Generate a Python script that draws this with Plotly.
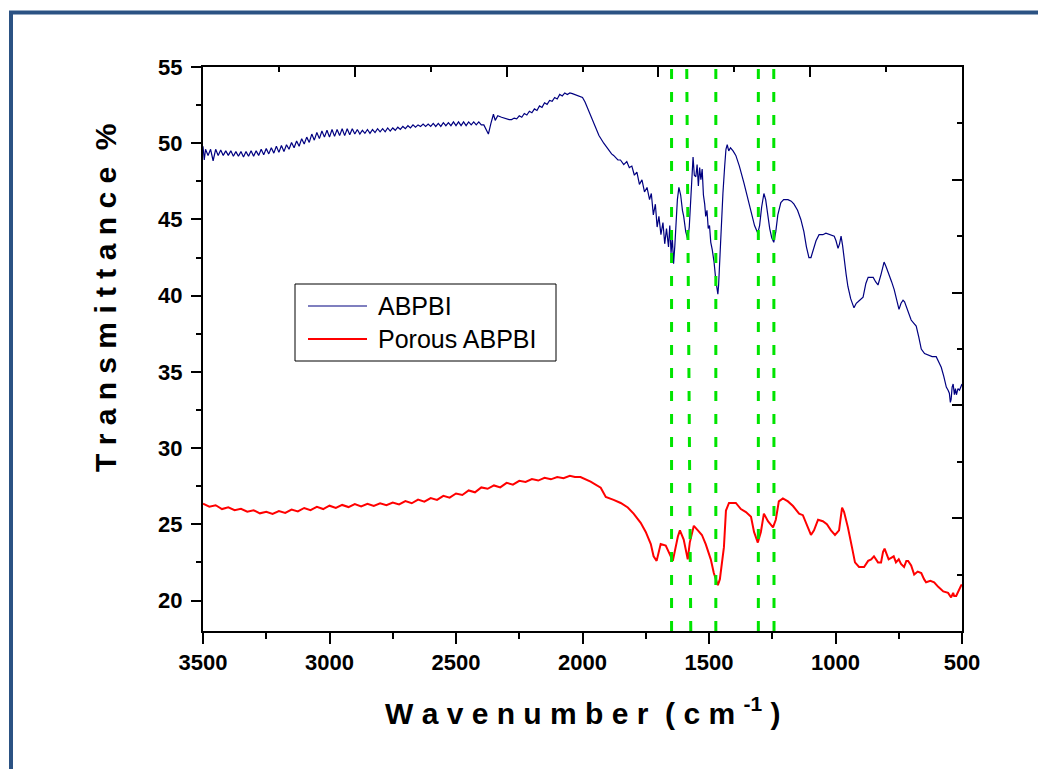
import plotly.graph_objects as go

# ---------------- data ----------------
abpbi_wn = [3500, 3495, 3490, 3480, 3470, 3460, 3450, 3440, 3430, 3420, 3410, 3400, 3390, 3380, 3370, 3360,
            3350, 3340, 3330, 3320, 3310, 3300, 3290, 3280, 3270, 3260, 3250, 3240, 3230, 3220, 3210, 3200,
            3190, 3180, 3170, 3160, 3150, 3140, 3130, 3120, 3110, 3100, 3090, 3080, 3070, 3060, 3050, 3040,
            3030, 3020, 3010, 3000, 2990, 2980, 2970, 2960, 2950, 2940, 2930, 2920, 2910, 2900, 2890, 2880,
            2870, 2860, 2850, 2840, 2830, 2820, 2810, 2800, 2790, 2780, 2770, 2760, 2750, 2740, 2730, 2720,
            2710, 2700, 2690, 2680, 2670, 2660, 2650, 2640, 2630, 2620, 2610, 2600, 2590, 2580, 2570, 2560,
            2550, 2540, 2530, 2520, 2510, 2500, 2490, 2480, 2470, 2460, 2450, 2440, 2430, 2420, 2410, 2400,
            2390, 2380, 2372, 2362, 2352, 2345, 2335, 2320, 2305, 2290, 2280, 2270, 2260, 2250, 2240, 2230,
            2220, 2210, 2200, 2190, 2180, 2170, 2160, 2150, 2140, 2130, 2120, 2110, 2100, 2090, 2080, 2070,
            2060, 2050, 2040, 2030, 2020, 2010, 2000, 1990, 1980, 1968, 1950, 1935, 1916, 1900, 1885, 1877,
            1860, 1850, 1837, 1825, 1815, 1805, 1795, 1785, 1775, 1765, 1755, 1745, 1735, 1728, 1720, 1712,
            1705, 1698, 1690, 1682, 1675, 1668, 1660, 1655, 1650, 1645, 1640, 1635, 1631, 1625, 1619, 1612,
            1605, 1600, 1592, 1584, 1578, 1572, 1566, 1563, 1558, 1552, 1547, 1542, 1537, 1532, 1527, 1522,
            1517, 1513, 1508, 1503, 1498, 1493, 1487, 1480, 1473, 1468, 1465, 1462, 1456, 1450, 1445, 1438,
            1433, 1428, 1422, 1415, 1405, 1394, 1380, 1362, 1348, 1335, 1320, 1307, 1300, 1292, 1283, 1276,
            1268, 1260, 1252, 1244, 1236, 1228, 1216, 1205, 1188, 1175, 1164, 1150, 1137, 1125, 1115, 1105,
            1097, 1087, 1077, 1065, 1050, 1038, 1018, 1005, 998, 990, 984, 978, 972, 966, 958, 951,
            940, 927, 918, 911, 900, 891, 880, 871, 860, 851, 841, 832, 820, 808, 800, 788,
            778, 768, 758, 749, 741, 733, 727, 721, 711, 701, 691, 681, 671, 661, 648, 634,
            618, 602, 592, 582, 572, 562, 555, 550, 546, 543, 539, 535, 530, 526, 522, 516,
            510, 505, 500]
abpbi_t = [49.8, 48.9, 49.6, 49.2, 49.6, 48.85, 49.6, 49.2, 49.55, 49.2, 49.5, 49.2, 49.5, 49.15, 49.45, 49.15,
           49.45, 49.1, 49.45, 49.15, 49.5, 49.15, 49.5, 49.2, 49.6, 49.25, 49.65, 49.3, 49.7, 49.35, 49.8, 49.4,
           49.85, 49.45, 49.9, 49.6, 50.05, 49.7, 50.15, 49.8, 50.3, 49.95, 50.4, 50.05, 50.6, 50.2, 50.7, 50.3,
           50.8, 50.4, 50.85, 50.4, 50.9, 50.45, 50.9, 50.5, 50.95, 50.5, 50.95, 50.55, 50.95, 50.6, 50.9, 50.6,
           50.85, 50.65, 50.9, 50.65, 50.9, 50.7, 50.95, 50.75, 50.95, 50.75, 51.0, 50.8, 51.0, 50.85, 51.05, 50.9,
           51.1, 50.95, 51.15, 51.0, 51.2, 51.05, 51.2, 51.1, 51.25, 51.1, 51.25, 51.1, 51.3, 51.1, 51.3, 51.1,
           51.35, 51.15, 51.35, 51.15, 51.4, 51.15, 51.4, 51.15, 51.4, 51.15, 51.4, 51.2, 51.4, 51.2, 51.4, 51.2,
           51.2, 50.9, 50.6, 51.3, 51.9, 51.5, 51.8, 51.7, 51.6, 51.55, 51.55, 51.65, 51.6, 51.8, 51.7, 51.95,
           51.85, 52.1, 52.0, 52.25, 52.15, 52.45, 52.35, 52.65, 52.55, 52.8, 52.75, 53.0, 52.9, 53.2, 53.1, 53.3,
           53.2, 53.3, 53.25, 53.2, 53.1, 53.1, 53.0, 52.7, 52.3, 51.7, 51.0, 50.5, 50.0, 49.6, 49.3, 49.2,
           48.9, 48.9, 48.6, 48.8, 48.4, 48.5, 47.9, 48.1, 47.3, 47.6, 46.8, 47.1, 46.3, 46.7, 45.3, 46.0,
           44.5, 45.2, 44.0, 44.8, 43.4, 44.4, 43.2, 44.6, 42.8, 43.8, 42.1, 43.3, 44.5, 46.3, 47.1, 46.6,
           45.6, 45.2, 44.2, 43.7, 44.5, 46.7, 48.3, 49.1, 47.9, 47.8, 48.6, 47.2, 48.4, 47.6, 48.3, 46.6,
           46.0, 45.2, 45.6, 44.4, 44.6, 43.5, 43.0, 42.2, 41.0, 40.4, 40.1, 40.7, 43.0, 45.3, 46.7, 48.5,
           49.6, 49.9, 49.5, 49.7, 49.5, 49.2, 48.5, 47.4, 46.5, 45.6, 44.6, 44.1, 44.6, 45.8, 46.7, 46.3,
           45.3, 44.4, 43.8, 43.5, 44.2, 45.3, 46.1, 46.3, 46.3, 46.2, 46.0, 45.6, 45.0, 44.2, 43.2, 42.5,
           42.5, 43.0, 43.6, 44.0, 44.0, 44.1, 44.0, 43.9, 43.6, 43.1, 43.4, 43.9, 43.3, 42.4, 41.4, 40.6,
           39.8, 39.2, 39.5, 39.6, 39.8, 39.9, 40.8, 41.2, 41.2, 41.2, 40.9, 40.7, 41.4, 42.2, 41.9, 41.4,
           40.9, 40.4, 39.8, 39.1, 39.5, 39.7, 39.6, 39.3, 38.8, 38.4, 38.2, 38.0, 37.3, 36.5, 36.2, 36.1,
           36.0, 36.0, 35.7, 35.3, 34.7, 34.0, 33.8, 33.6, 33.0, 33.2, 34.0, 34.2, 33.5, 33.9, 33.5, 33.9,
           33.8, 34.0, 34.2]

porous_wn = [3500, 3475, 3450, 3425, 3400, 3375, 3350, 3325, 3300, 3275, 3250, 3225, 3200, 3175, 3150, 3125,
             3100, 3075, 3050, 3025, 3000, 2975, 2950, 2925, 2900, 2875, 2850, 2825, 2800, 2775, 2750, 2725,
             2700, 2675, 2650, 2625, 2600, 2575, 2550, 2525, 2500, 2475, 2450, 2425, 2400, 2375, 2350, 2325,
             2300, 2275, 2250, 2225, 2200, 2175, 2150, 2125, 2100, 2075, 2050, 2030, 2008, 1968, 1928, 1908,
             1877, 1849, 1821, 1798, 1770, 1750, 1730, 1719, 1707, 1691, 1671, 1655, 1643, 1623, 1615, 1600,
             1588, 1584, 1576, 1560, 1544, 1528, 1513, 1493, 1481, 1465, 1457, 1441, 1433, 1421, 1394, 1374,
             1354, 1334, 1322, 1307, 1295, 1283, 1267, 1247, 1236, 1224, 1208, 1188, 1168, 1144, 1129, 1113,
             1097, 1085, 1069, 1050, 1034, 1018, 1002, 986, 974, 966, 951, 935, 923, 907, 887, 871,
             859, 848, 832, 820, 812, 806, 798, 790, 780, 770, 761, 750, 741, 729, 720, 713,
             701, 689, 675, 661, 650, 642, 625, 610, 594, 574, 555, 543, 535, 531, 523, 515,
             508, 503, 500]
porous_t = [26.35, 26.15, 26.25, 26.0, 26.12, 25.93, 26.02, 25.83, 25.92, 25.72, 25.82, 25.68, 25.87, 25.75, 25.97, 25.85,
            26.07, 25.93, 26.15, 26.0, 26.22, 26.07, 26.27, 26.13, 26.32, 26.17, 26.35, 26.2, 26.37, 26.25, 26.43, 26.3,
            26.52, 26.38, 26.62, 26.48, 26.72, 26.6, 26.87, 26.75, 27.02, 26.92, 27.22, 27.1, 27.42, 27.33, 27.55, 27.42,
            27.72, 27.6, 27.85, 27.78, 27.97, 27.87, 28.05, 27.95, 28.1, 28.02, 28.18, 28.1, 28.1, 27.8, 27.4, 26.8,
            26.6, 26.4, 26.1, 25.7, 25.1, 24.5, 23.7, 22.9, 22.6, 23.7, 23.6, 23.0, 22.6, 24.2, 24.6, 24.0,
            22.9, 22.7, 23.8, 24.9, 24.6, 24.3, 23.7, 22.7, 21.8, 21.0, 21.4, 23.5, 25.9, 26.4, 26.4, 26.0,
            25.8, 25.5, 24.5, 23.8, 24.5, 25.7, 25.2, 24.8, 25.3, 26.5, 26.7, 26.5, 26.2, 25.7, 25.6, 25.0,
            24.3, 24.6, 25.3, 25.2, 25.0, 24.6, 24.3, 24.6, 26.1, 25.8, 24.8, 23.5, 22.5, 22.2, 22.2, 22.6,
            22.7, 22.9, 22.5, 22.5, 23.2, 23.4, 23.0, 22.7, 22.8, 22.9, 22.5, 22.7, 22.4, 22.2, 22.6, 22.6,
            22.3, 21.7, 21.9, 21.8, 21.4, 21.2, 21.3, 21.2, 20.9, 20.6, 20.5, 20.2, 20.5, 20.3, 20.3, 20.6,
            20.8, 21.0, 21.0]

series_names = ["ABPBI", "Porous ABPBI"]
series_colors = ["#000080", "#ff0000"]

# reference lines (wavenumber at bottom / top of the plot)
marker_wn_bottom = [1648, 1572, 1473, 1305, 1243]
marker_wn_top = [1648, 1588, 1473, 1305, 1244]

x_ticks = [3500, 3000, 2500, 2000, 1500, 1000, 500]
y_ticks = [20, 25, 30, 35, 40, 45, 50, 55]

# ---------------- layout geometry (page pixels; the page body adds an 8px offset) ----------------
OFF = 8
W, H = 1046, 769
L, R, T, B = 203, 962, 67, 631   # plot area in page pixels


def px_x(p):
    return (p - L) / (R - L)


def px_y(p):
    return (B - p) / (B - T)


FONT = "Arial, Liberation Sans, sans-serif"

fig = go.Figure()
fig.add_trace(go.Scatter(x=abpbi_wn, y=abpbi_t, mode="lines", name=series_names[0],
                         line=dict(color=series_colors[0], width=1.2), showlegend=False))
fig.add_trace(go.Scatter(x=porous_wn, y=porous_t, mode="lines", name=series_names[1],
                         line=dict(color=series_colors[1], width=2), showlegend=False))
# invisible trace to activate mirror axes (top / right)
fig.add_trace(go.Scatter(x=abpbi_wn, y=abpbi_t, xaxis="x2", yaxis="y2", mode="lines",
                         line=dict(width=0), hoverinfo="skip", showlegend=False))

axis_common = dict(showgrid=False, zeroline=False, showline=True, linecolor="black", linewidth=2,
                   tickcolor="black", tickwidth=2)

fig.update_layout(
    width=W, height=H,
    margin=dict(l=L - OFF, r=W + OFF - R, t=T - OFF, b=H + OFF - B),
    paper_bgcolor="white", plot_bgcolor="white",
    font=dict(family=FONT, color="black"),
    showlegend=False,
    xaxis=dict(range=[3500, 500], tickvals=x_ticks, ticks="outside", ticklen=11,
               tickfont=dict(family=FONT, size=22, weight="bold", color="black"),
               minor=dict(dtick=250, tick0=500, ticks="outside", ticklen=6, tickwidth=2, tickcolor="black"),
               **axis_common),
    yaxis=dict(range=[18, 55], tickvals=y_ticks, ticks="outside", ticklen=10, ticklabelstandoff=4,
               tickfont=dict(family=FONT, size=22, weight="bold", color="black"),
               minor=dict(dtick=2.5, tick0=0, ticks="outside", ticklen=5, tickwidth=2, tickcolor="black"),
               **axis_common),
    xaxis2=dict(range=[3500, 500], overlaying="x", side="top", anchor="y2", tick0=500, dtick=600,
                ticks="inside", ticklen=10, showticklabels=False,
                minor=dict(dtick=300, tick0=500, ticks="inside", ticklen=5, tickwidth=2, tickcolor="black"),
                **axis_common),
    yaxis2=dict(range=[18, 55], overlaying="y", side="right", anchor="x2", tick0=18, dtick=7.4,
                ticks="inside", ticklen=10, showticklabels=False,
                minor=dict(dtick=3.7, tick0=18, ticks="inside", ticklen=5, tickwidth=2, tickcolor="black"),
                **axis_common),
)

shapes = []
# outer frame (runs off the right and bottom of the page)
shapes.append(dict(type="rect", xref="paper", yref="paper", x0=px_x(11), x1=px_x(1300),
                   y0=px_y(1000), y1=px_y(12.5), line=dict(color="#2B5283", width=4), layer="below"))
# green reference lines
for xb, xt in zip(marker_wn_bottom, marker_wn_top):
    shapes.append(dict(type="line", xref="x", yref="paper", x0=xb, x1=xt, y0=0, y1=1,
                       line=dict(color="#00e400", width=3, dash="10px,13px")))
# legend box
shapes.append(dict(type="rect", xref="paper", yref="paper", x0=px_x(295), x1=px_x(556),
                   y0=px_y(361), y1=px_y(284), line=dict(color="black", width=1), fillcolor="white"))
legend_rows = [306, 339]
for name, col, yy, w in zip(series_names, series_colors, legend_rows, [1.2, 2]):
    shapes.append(dict(type="line", xref="paper", yref="paper", x0=px_x(308), x1=px_x(367),
                       y0=px_y(yy), y1=px_y(yy), line=dict(color=col, width=w)))
fig.update_layout(shapes=shapes)

annotations = []
for name, yy in zip(series_names, legend_rows):
    annotations.append(dict(text=name, xref="paper", yref="paper", x=px_x(376), y=px_y(yy),
                            xanchor="left", yanchor="middle", showarrow=False,
                            font=dict(family=FONT, size=25, color="black")))
annotations.append(dict(text="W a v e n u m b e r  ( c m <sup>-1</sup> )", xref="paper", yref="paper",
                        x=0.5, y=px_y(711), xanchor="center", yanchor="middle", showarrow=False,
                        font=dict(family=FONT, size=30, weight="bold", color="black")))
annotations.append(dict(text="T r a n s m i t t a n c e  %", xref="paper", yref="paper",
                        x=px_x(105), y=px_y(298), xanchor="center", yanchor="middle", textangle=-90,
                        showarrow=False, font=dict(family=FONT, size=30, weight="bold", color="black")))
fig.update_layout(annotations=annotations)

fig.write_html("out.html")
